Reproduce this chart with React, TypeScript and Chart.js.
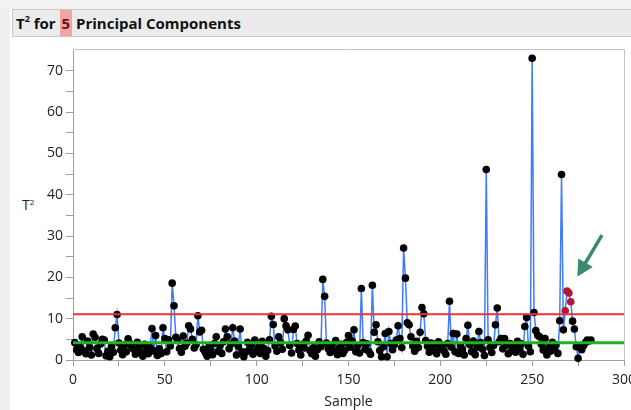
import React, { useEffect, useRef } from 'react';
import { Chart, registerables } from 'chart.js';

Chart.register(...registerables);

// T² value for each sample (samples are numbered from 1)
const t2Values: number[] = [
  4.2, 2.5, 1.8, 3.1, 5.6, 2.2, 1.5, 4.6, 3.0, 1.2,
  6.3, 5.5, 2.8, 1.6, 3.9, 5.0, 4.8, 1.0, 2.1, 0.8,
  3.3, 1.9, 7.8, 11.0, 4.1, 2.4, 1.3, 3.6, 2.0, 5.1,
  4.0, 3.2, 2.6, 1.4, 4.3, 2.9, 1.7, 0.9, 3.8, 2.3,
  1.5, 3.0, 7.6, 2.2, 5.9, 1.1, 2.7, 1.6, 7.8, 5.2,
  2.0, 4.9, 3.4, 18.6, 13.1, 5.5, 4.7, 2.8, 1.9, 5.8,
  3.3, 4.1, 8.3, 7.5, 5.0, 2.9, 3.7, 10.7, 6.8, 7.2,
  2.6, 1.8, 0.9, 3.2, 2.4, 1.3, 4.0, 5.6, 2.1, 3.5,
  1.6, 4.4, 7.5, 5.6, 2.7, 3.9, 7.8, 4.6, 1.2, 3.3,
  7.5, 2.0, 0.8, 1.9, 4.3, 2.5, 3.6, 1.4, 4.8, 2.2,
  3.1, 1.6, 4.5, 2.8, 0.9, 2.3, 4.9, 10.6, 8.6, 3.4,
  2.1, 5.6, 4.2, 2.6, 10.0, 8.3, 7.3, 3.5, 1.7, 7.4,
  8.2, 4.0, 2.4, 1.2, 3.8, 2.9, 4.6, 6.0, 2.3, 1.5,
  3.0, 0.9, 2.5, 4.4, 3.2, 19.5, 15.4, 4.1, 2.7, 1.8,
  3.6, 2.2, 4.7, 1.3, 2.9, 3.8, 1.6, 2.4, 4.3, 5.9,
  3.1, 4.6, 7.3, 2.0, 3.5, 1.7, 17.3, 4.2, 2.6, 3.9,
  2.1, 1.4, 18.1, 6.7, 8.5, 4.4, 2.3, 0.8, 3.2, 6.4,
  0.8, 6.9, 4.0, 2.5, 3.7, 4.8, 8.3, 5.2, 3.0, 27.1,
  19.8, 9.0, 8.5, 5.6, 3.4, 2.1, 4.5, 3.0, 6.7, 12.7,
  11.2, 4.7, 3.3, 1.9, 4.1, 2.6, 3.8, 1.5, 4.4, 2.8,
  3.6, 2.2, 1.4, 4.0, 14.2, 3.1, 6.4, 2.0, 6.3, 1.6,
  3.4, 2.5, 1.2, 5.2, 8.4, 3.7, 2.0, 4.6, 1.3, 3.1,
  6.9, 4.2, 2.6, 1.1, 46.1, 4.9, 3.0, 1.8, 3.5, 8.5,
  12.6, 4.4, 5.2, 2.7, 5.2, 3.6, 1.5, 4.0, 2.3, 3.2,
  1.9, 4.5, 2.6, 3.9, 1.4, 8.1, 10.3, 3.3, 2.0, 73.0,
  11.5, 7.1, 6.0, 5.6, 3.8, 2.4, 5.2, 1.2, 3.0, 2.1,
  4.3, 2.8, 3.6, 1.6, 9.5, 44.9, 7.3, 11.9, 16.7, 16.2,
  14.1, 9.4, 7.5, 3.2, 0.4, 3.0, 2.5, 3.5, 4.2, 4.8,
  4.6, 4.8,
];
const firstSample = 1;
const flaggedSamples: number[] = [268, 269, 270, 271];
const upperControlLimit = 11.05;
const centerLine = 4.2;
const xRange: number[] = [0, 300];
const yRange: number[] = [0, 75.25];
const arrowTail = { x: 288, y: 30.2 };
const arrowTip = { x: 274.6, y: 20.2 };

const FONT = '"Segoe UI", "Open Sans", "Noto Sans", sans-serif';

const decorPlugin = {
  id: 'decor',
  afterDraw(chart: any) {
    const { ctx, chartArea } = chart;
    const { left, top, right, bottom } = chartArea;
    ctx.save();
    // top and right frame
    ctx.strokeStyle = '#c4c4c4';
    ctx.lineWidth = 1;
    ctx.beginPath();
    ctx.moveTo(left, Math.round(top) + 0.5);
    ctx.lineTo(Math.round(right) + 0.5, Math.round(top) + 0.5);
    ctx.lineTo(Math.round(right) + 0.5, bottom);
    ctx.stroke();
    // annotation arrow
    const xs = chart.scales.x;
    const ys = chart.scales.y;
    const x0 = xs.getPixelForValue(arrowTail.x);
    const y0 = ys.getPixelForValue(arrowTail.y);
    const x1 = xs.getPixelForValue(arrowTip.x);
    const y1 = ys.getPixelForValue(arrowTip.y);
    const ang = Math.atan2(y1 - y0, x1 - x0);
    const headLen = 16;
    const headHalf = 8.5;
    const bx = x1 - headLen * Math.cos(ang);
    const by = y1 - headLen * Math.sin(ang);
    ctx.strokeStyle = '#3b8a6d';
    ctx.fillStyle = '#3b8a6d';
    ctx.lineWidth = 3.5;
    ctx.lineCap = 'butt';
    ctx.beginPath();
    ctx.moveTo(x0, y0);
    ctx.lineTo(bx + 2 * Math.cos(ang), by + 2 * Math.sin(ang));
    ctx.stroke();
    ctx.beginPath();
    ctx.moveTo(x1, y1);
    ctx.lineTo(bx + headHalf * Math.sin(ang), by - headHalf * Math.cos(ang));
    ctx.lineTo(bx - headHalf * Math.sin(ang), by + headHalf * Math.cos(ang));
    ctx.closePath();
    ctx.fill();
    ctx.restore();
  },
};

export default function App() {
  const canvasRef = useRef<HTMLCanvasElement | null>(null);

  useEffect(() => {
    const canvas = canvasRef.current;
    if (!canvas) return;
    const points = t2Values.map((v, i) => ({ x: firstSample + i, y: v }));
    const pointColors = points.map((p) =>
      flaggedSamples.includes(p.x) ? '#b3192c' : '#000000'
    );
    const chart = new Chart(canvas, {
      type: 'line',
      data: {
        datasets: [
          {
            label: 'UCL',
            data: [
              { x: xRange[0], y: upperControlLimit },
              { x: xRange[1], y: upperControlLimit },
            ],
            borderColor: '#e8343f',
            borderWidth: 2,
            pointRadius: 0,
            order: 0,
          },
          {
            label: 'Center',
            data: [
              { x: xRange[0], y: centerLine },
              { x: xRange[1], y: centerLine },
            ],
            borderColor: '#1fb31f',
            borderWidth: 3,
            pointRadius: 0,
            order: 0,
          },
          {
            label: 'T²',
            data: points,
            borderColor: '#3f7bff',
            borderWidth: 1.5,
            pointRadius: 3.8,
            pointBackgroundColor: pointColors,
            pointBorderColor: pointColors,
            pointBorderWidth: 0,
            clip: false as any,
            order: 1,
          },
        ],
      },
      options: {
        responsive: false,
        animation: false,
        layout: { padding: { left: 10, right: 7, top: 49, bottom: 0 } },
        plugins: {
          legend: { display: false },
          tooltip: { enabled: false },
        },
        scales: {
          x: {
            type: 'linear',
            min: xRange[0],
            max: xRange[1],
            ticks: {
              stepSize: 25,
              autoSkip: false,
              maxRotation: 0,
              color: '#222',
              font: { family: FONT, size: 14 },
              padding: 6,
              callback: (v: any) => (Number(v) % 50 === 0 ? String(v) : ''),
            },
            grid: {
              drawOnChartArea: false,
              drawTicks: true,
              tickLength: 6,
              color: '#a0a0a0',
            },
            border: { color: '#a0a0a0', width: 1 },
            title: {
              display: true,
              text: 'Sample',
              color: '#222',
              font: { family: FONT, size: 14 },
              padding: { top: 0, bottom: 0 },
            },
            afterFit: (s: any) => {
              s.height = 50;
              s.paddingLeft = 0;
              s.paddingRight = 0;
            },
          },
          y: {
            min: yRange[0],
            max: yRange[1],
            ticks: {
              stepSize: 5,
              color: '#222',
              font: { family: FONT, size: 14 },
              padding: 3,
              callback: (v: any) => (Number(v) % 10 === 0 ? String(v) : ''),
            },
            grid: {
              drawOnChartArea: false,
              drawTicks: true,
              tickLength: 7,
              color: '#a0a0a0',
            },
            border: { color: '#a0a0a0', width: 1 },
            afterBuildTicks: (s: any) => {
              s.ticks = s.ticks.filter((t: any) => Number.isInteger(t.value / 5));
            },
            afterFit: (s: any) => {
              s.width = 63;
              s.paddingTop = 0;
              s.paddingBottom = 0;
            },
          },
        },
      },
      plugins: [decorPlugin],
    } as any);
    return () => chart.destroy();
  }, []);

  return (
    <div
      style={{
        position: 'fixed',
        left: 0,
        top: 0,
        width: 631,
        height: 410,
        background: '#ffffff',
        overflow: 'hidden',
        fontFamily: FONT,
      }}
    >
      <div style={{ position: 'absolute', left: 0, top: 0, width: 10, height: 410, background: '#efefef' }} />
      <div style={{ position: 'absolute', left: 0, top: 0, width: 631, height: 9, background: '#f2f2f2' }} />
      <div
        style={{
          position: 'absolute',
          left: 12,
          top: 9,
          width: 640,
          height: 26,
          background: '#ebebeb',
          border: '1px solid #c9c9c9',
          boxSizing: 'content-box',
          fontWeight: 700,
          fontSize: 15,
          color: '#111',
          lineHeight: '26px',
          whiteSpace: 'nowrap',
        }}
      >
        <span style={{ paddingLeft: 3 }}>
          T<sup style={{ fontSize: 9, verticalAlign: 'top', lineHeight: '18px' }}>2</sup> for{' '}
        </span>
        <span style={{ display: 'inline-block', background: '#f2a3a3', color: '#6e1010', padding: '0 2px', height: 26 }}>5</span>
        <span> Principal Components</span>
      </div>
      <div
        style={{
          position: 'absolute',
          left: 22,
          top: 197,
          fontSize: 14,
          color: '#222',
          lineHeight: '16px',
        }}
      >
        T<sup style={{ fontSize: 8, verticalAlign: 'top', lineHeight: '10px' }}>2</sup>
      </div>
      <canvas
        ref={canvasRef}
        width={631}
        height={410}
        style={{ position: 'absolute', left: 0, top: 0, width: 631, height: 410 }}
      />
    </div>
  );
}
